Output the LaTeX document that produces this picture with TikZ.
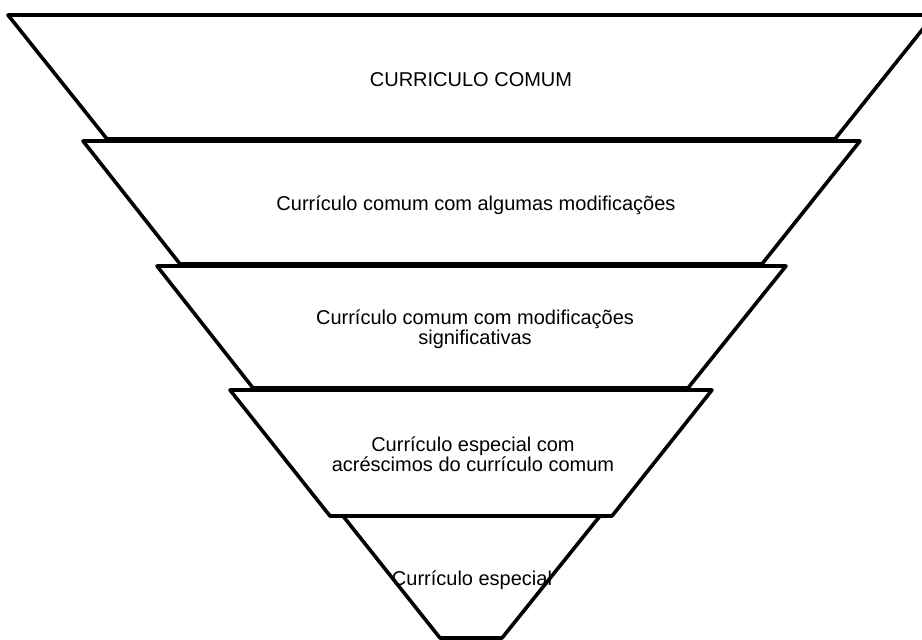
\documentclass[tikz,border=0pt]{standalone}
\usepackage{fontspec}
\setmainfont{Liberation Sans}

\begin{document}
\begin{tikzpicture}[
    x=1pt, y=-1pt,
    band/.style={draw, fill=white, line width=3.6pt, line join=round},
    bandtext/.style={align=center, font=\fontsize{20}{20}\selectfont, inner sep=0pt}
]
\useasboundingbox (0,0) rectangle (922,640);

% funnel, widest band first
\draw[band] (8,15) -- (934,15) -- (835,139) -- (107,139) -- cycle;
\draw[band] (83,141) -- (860,141) -- (762,264) -- (180,264) -- cycle;
\draw[band] (157,266) -- (786,266) -- (688,388) -- (253,388) -- cycle;
\draw[band] (230,390) -- (712,390) -- (612,516) -- (330,516) -- cycle;
\draw[band] (343,516) -- (600,516) -- (502,638) -- (440,638) -- cycle;

\node[bandtext] (comum) at (471,80) {CURRICULO COMUM};
\node[bandtext] (algumas) at (476,205) {Currículo comum com algumas modificações};
\node[bandtext] (signif) at (475,329) {Currículo comum com modificações\\significativas};
\node[bandtext] (acresc) at (473,454) {Currículo especial com\\acréscimos do currículo comum};
\node[bandtext] (especial) at (472,580) {Currículo especial};
\end{tikzpicture}
\end{document}
